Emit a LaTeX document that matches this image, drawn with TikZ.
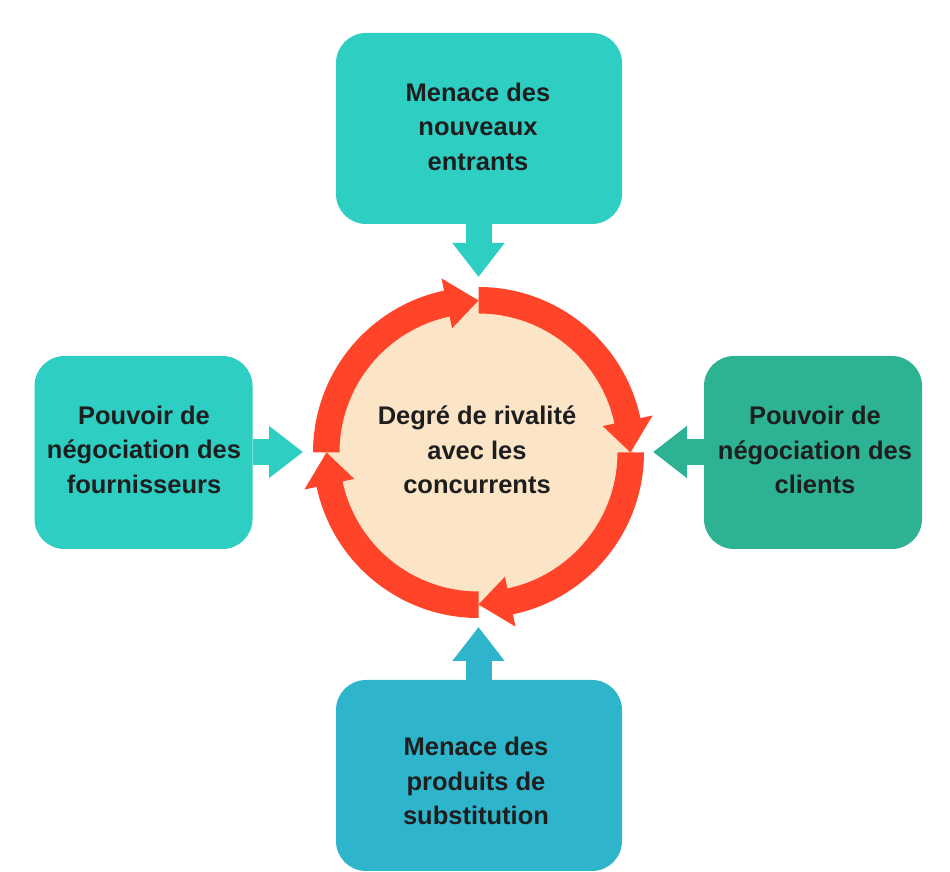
\documentclass[tikz,border=0pt]{standalone}
\usepackage{fontspec}
\setmainfont{Liberation Sans}
\usetikzlibrary{arrows.meta}
\definecolor{tealA}{HTML}{2ECEC3}
\definecolor{greenB}{HTML}{2DB294}
\definecolor{blueC}{HTML}{2EB4CB}
\definecolor{ringred}{HTML}{FF4429}
\definecolor{peach}{HTML}{FCE5C6}
\definecolor{ink}{HTML}{1E1E1E}
\tikzset{
  box/.style={rounded corners=30pt, inner sep=0pt, minimum width=286pt, minimum height=191pt},
  sidebox/.style={rounded corners=30pt, inner sep=0pt, minimum width=218pt, minimum height=193pt},
  txt/.style={align=center, text=ink, font=\bfseries\fontsize{25.5}{34.5}\selectfont, inner sep=0pt},
  push/.style={line width=26pt, -{Triangle[width=50pt,length=34pt]}},
  ringarrow/.style={fill=ringred}
}
\begin{document}
\begin{tikzpicture}[x=1pt,y=1pt]
\useasboundingbox (0,0) rectangle (950,872);
% boxes
\node[box, fill=tealA] (top) at (479,743.5) {};
\node[box, fill=blueC] (bottom) at (479,96.5) {};
\node[sidebox, fill=tealA] (left) at (143.5,419.5) {};
\node[sidebox, fill=greenB] (right) at (813,419.5) {};
% centre circle
\coordinate (c) at (478.5,419.5);
\node[circle, fill=peach, minimum size=310pt, inner sep=0pt] (hub) at (c) {};
% ring arrows
\foreach \a in {90,0,-90,-180}{
  \fill[ringarrow,shift={(c)}]
    (\a:165.5pt) arc[start angle=\a, end angle=\a-78, radius=165.5pt]
    -- (\a-78:178pt) -- (\a-90:152pt) -- (\a-78:127pt) -- (\a-78:139pt)
    arc[start angle=\a-78, end angle=\a, radius=139pt] -- cycle;
}
% tip points of the pushing arrows
\coordinate (ttip) at (478.5,595);
\coordinate (btip) at (478.5,245);
\coordinate (ltip) at (303,420);
\coordinate (rtip) at (653,420);
\draw[push, tealA] (top.south -| ttip) -- (ttip);
\draw[push, blueC] (bottom.north -| btip) -- (btip);
\draw[push, tealA] (left.east |- ltip) -- (ltip);
\draw[push, greenB] (right.west |- rtip) -- (rtip);
% texts
\node[txt] (ttop) at (478,745.5) {Menace des\\nouveaux\\entrants};
\node[txt] (tbottom) at (476,91) {Menace des\\produits de\\substitution};
\node[txt] (tleft) at (144,422.5) {Pouvoir de\\négociation des\\fournisseurs};
\node[txt] (tright) at (815,422) {Pouvoir de\\négociation des\\clients};
\node[txt] (thub) at (477,422) {Degré de rivalité\\avec les\\concurrents};
\end{tikzpicture}
\end{document}
